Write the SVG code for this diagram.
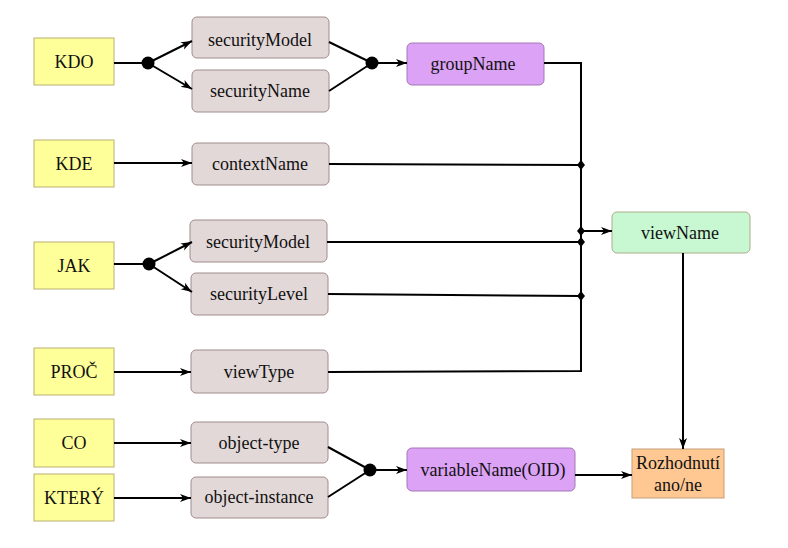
<svg xmlns="http://www.w3.org/2000/svg" width="788" height="548" viewBox="0 0 788 548">
<defs>
<marker id="arr" markerWidth="12" markerHeight="10" refX="11" refY="5" orient="auto" markerUnits="userSpaceOnUse">
<path d="M0,1 L11,5 L0,9 L3,5 Z" fill="#000"/>
</marker>
<style>
.t text{font-size:18px;fill:#111;text-anchor:middle}
.y{fill:#FFFF99;stroke:#B8B070;stroke-width:1}
.g{fill:#E3D8D8;stroke:#A08C8C;stroke-width:1}
.p{fill:#DCA2F6;stroke:#A478B4;stroke-width:1}
.v{fill:#C8F8D2;stroke:#ACAC88;stroke-width:1}
.o{fill:#FFC892;stroke:#C4A078;stroke-width:1}
.c line,.c polyline{stroke:#000;stroke-width:2;fill:none}
.a{marker-end:url(#arr)}
.dot{fill:#000}
.dia{fill:#000;stroke:none}
</style>
</defs>
<rect width="788" height="548" fill="#fff"/>
<g class="t" font-family="Liberation Serif, DejaVu Serif, serif">
<g id="KDO"><rect class="y" x="34" y="38" width="80" height="47"/><text x="74" y="68">KDO</text></g>
<g id="KDE"><rect class="y" x="34" y="140" width="80" height="47"/><text x="74" y="170">KDE</text></g>
<g id="JAK"><rect class="y" x="34" y="242" width="80" height="47"/><text x="74" y="272">JAK</text></g>
<g id="PROC"><rect class="y" x="34" y="348" width="80" height="47"/><text x="74" y="378">PROČ</text></g>
<g id="CO"><rect class="y" x="34" y="419" width="80" height="48"/><text x="74" y="449">CO</text></g>
<g id="KTERY"><rect class="y" x="34" y="474" width="80" height="47"/><text x="74" y="504">KTERÝ</text></g>

<g id="securityModel1"><rect class="g" x="192" y="17" width="137" height="41" rx="5"/><text x="260" y="46">securityModel</text></g>
<g id="securityName"><rect class="g" x="192" y="70" width="137" height="42" rx="5"/><text x="260" y="97">securityName</text></g>
<g id="contextName"><rect class="g" x="192" y="143" width="137" height="42" rx="5"/><text x="260" y="170">contextName</text></g>
<g id="securityModel2"><rect class="g" x="190" y="220" width="137" height="42" rx="5"/><text x="258" y="248">securityModel</text></g>
<g id="securityLevel"><rect class="g" x="191" y="273" width="137" height="42" rx="5"/><text x="259" y="300">securityLevel</text></g>
<g id="viewType"><rect class="g" x="191" y="350" width="137" height="43" rx="5"/><text x="259" y="378">viewType</text></g>
<g id="objectType"><rect class="g" x="191" y="422" width="137" height="41" rx="5"/><text x="259" y="449">object-type</text></g>
<g id="objectInstance"><rect class="g" x="191" y="477" width="137" height="41" rx="5"/><text x="259" y="503">object-instance</text></g>

<g id="groupName"><rect class="p" x="407" y="43" width="137" height="42" rx="5"/><text x="473" y="70">groupName</text></g>
<g id="viewName"><rect class="v" x="612" y="212" width="138" height="41" rx="5"/><text x="680" y="239">viewName</text></g>
<g id="variableName"><rect class="p" x="407" y="448" width="168" height="43" rx="5"/><text x="493" y="476">variableName(OID)</text></g>
<g id="Rozhodnuti"><rect class="o" x="632" y="449" width="92" height="49"/><text x="678" y="469">Rozhodnutí</text><text x="678" y="491">ano/ne</text></g>
</g>
<g id="connectors" class="c">
<line x1="114" y1="63" x2="148" y2="63"/>
<line class="a" x1="148" y1="63" x2="192" y2="41"/>
<line class="a" x1="148" y1="63" x2="192" y2="89"/>
<line x1="329" y1="42" x2="372" y2="63"/>
<line x1="329" y1="91" x2="372" y2="63"/>
<line class="a" x1="372" y1="63" x2="407" y2="63"/>
<circle class="dot" cx="148" cy="63" r="6.5"/>
<circle class="dot" cx="372" cy="63" r="6.5"/>

<line class="a" x1="114" y1="163" x2="192" y2="163"/>
<line x1="329" y1="164" x2="581" y2="165"/>

<line x1="114" y1="264" x2="149" y2="264"/>
<line class="a" x1="149" y1="264" x2="192" y2="242"/>
<line class="a" x1="149" y1="264" x2="192" y2="292"/>
<circle class="dot" cx="149" cy="264" r="6.5"/>
<line x1="327" y1="242" x2="581" y2="242"/>
<line x1="328" y1="294" x2="581" y2="296"/>

<line class="a" x1="114" y1="372" x2="191" y2="372"/>
<polyline points="328,372 581,371 581,63 544,63"/>

<line class="a" x1="581" y1="231" x2="612" y2="231"/>
<line class="a" x1="683" y1="253" x2="683" y2="449"/>

<line class="a" x1="114" y1="443" x2="191" y2="443"/>
<line class="a" x1="114" y1="498" x2="191" y2="498"/>
<line x1="328" y1="447" x2="370" y2="470"/>
<line x1="328" y1="497" x2="370" y2="470"/>
<circle class="dot" cx="370" cy="470" r="6.5"/>
<line class="a" x1="370" y1="470" x2="407" y2="470"/>
<line class="a" x1="575" y1="475" x2="632" y2="475"/>

<path class="dia" d="M581,160 L585,165 L581,170 L577,165 Z"/>
<path class="dia" d="M581,226 L585,231 L581,236 L577,231 Z"/>
<path class="dia" d="M581,237 L585,242 L581,247 L577,242 Z"/>
<path class="dia" d="M581,291 L585,296 L581,301 L577,296 Z"/>
</g>
</svg>
